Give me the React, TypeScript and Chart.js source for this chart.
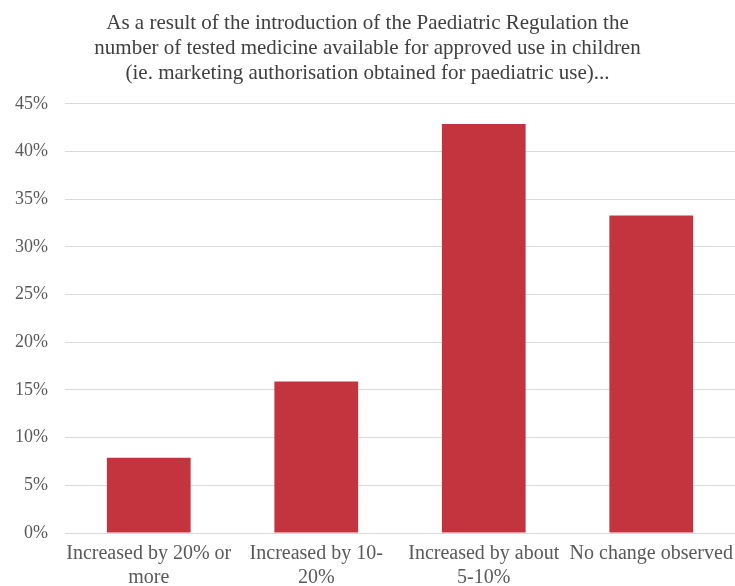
import React, { useEffect, useRef } from "react";
import { Chart, registerables } from "chart.js";

Chart.register(...registerables);

const categories: (string | string[])[] = [
  ["Increased by 20% or", "more"],
  ["Increased by 10-", "20%"],
  ["Increased by about", "5-10%"],
  "No change observed",
];
const values = [7.9, 15.9, 42.9, 33.3];
const titleLines = [
  "As a result of the introduction of the Paediatric Regulation the",
  "number of tested medicine available for approved use in children",
  "(ie. marketing authorisation obtained for paediatric use)...",
];
const yMin = 0;
const yMax = 45;
const yStep = 5;

const FONT = "'Liberation Serif', 'DejaVu Serif', serif";

export default function App() {
  const ref = useRef<HTMLCanvasElement | null>(null);
  useEffect(() => {
    document.body.style.margin = "0";
    if (!ref.current) return;
    const chart = new Chart(ref.current, {
      type: "bar",
      data: {
        labels: categories,
        datasets: [
          {
            data: values,
            backgroundColor: "#C3343F",
            borderWidth: 0,
            categoryPercentage: 1,
            barPercentage: 0.5,
          },
        ],
      },
      options: {
        responsive: false,
        animation: false,
        layout: { padding: { top: 11, left: 0, right: 0, bottom: 0 } },
        plugins: {
          legend: { display: false },
          tooltip: { enabled: false },
          title: {
            display: true,
            text: titleLines,
            color: "#404040",
            font: { family: FONT, size: 21, weight: "normal", lineHeight: 1.19 },
            padding: { top: 0, bottom: 18 },
          },
        },
        scales: {
          x: {
            grid: { display: false, drawTicks: false },
            border: { display: false },
            ticks: {
              color: "#595959",
              font: { family: FONT, size: 20, lineHeight: 1.2 },
              maxRotation: 0,
              autoSkip: false,
              padding: 9,
            },
            afterFit: (scale: any) => {
              scale.height = 53;
              scale.paddingLeft = 0;
              scale.paddingRight = 0;
            },
          },
          y: {
            min: yMin,
            max: yMax,
            grid: { color: "#D9D9D9", lineWidth: 1, drawTicks: false },
            border: { display: false },
            ticks: {
              stepSize: yStep,
              color: "#595959",
              font: { family: FONT, size: 18 },
              padding: 17,
              callback: (v: any) => v + "%",
            },
            afterFit: (scale: any) => {
              scale.width = 65;
            },
          },
        },
      },
    });
    return () => chart.destroy();
  }, []);
  return (
    <div style={{ width: 735, height: 586 }}>
      <canvas ref={ref} width={735} height={586} />
    </div>
  );
}
